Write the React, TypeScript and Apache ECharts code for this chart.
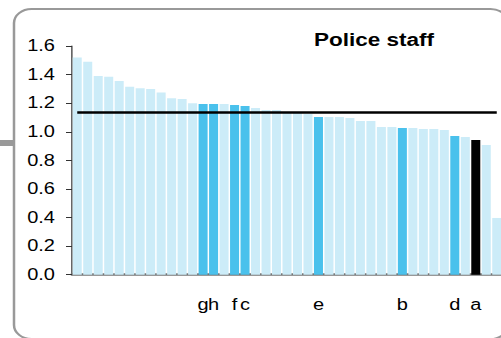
import React, { useEffect, useRef } from "react";
import * as echarts from "echarts";

// Bar values, sorted descending
const values: number[] = [
  1.52, 1.49, 1.39, 1.385, 1.355, 1.315, 1.305, 1.3, 1.275, 1.235,
  1.23, 1.2, 1.195, 1.195, 1.195, 1.188, 1.18, 1.167, 1.153, 1.153,
  1.135, 1.135, 1.125, 1.104, 1.104, 1.104, 1.097, 1.076, 1.076, 1.034,
  1.034, 1.027, 1.027, 1.02, 1.02, 1.013, 0.971, 0.964, 0.943, 0.908,
  0.397,
];

// Category tick labels (only some bars are labelled)
const barLabels: string[] = [
  "", "", "", "", "", "", "", "", "", "",
  "", "", "g", "h", "", "f", "c", "", "", "",
  "", "", "", "e", "", "", "", "", "", "",
  "", "b", "", "", "", "", "d", "", "a", "",
  "",
];

const categories: string[] = barLabels.map((_, i) => "c" + (i + 1));

const referenceLevel = 1.14;
const yMin = 0;
const yMax = 1.6;
const yInterval = 0.2;

const LIGHT = "#CCECF8";
const DARK = "#4AC1EC";
const FOCUS = "#000000";
const FONT = "'Liberation Sans', Arial, Helvetica, sans-serif";

const SX = 1.25;
const W = 402;
const H = 338;
const px = (x: number) => x / SX;

export default function App() {
  const ref = useRef<HTMLDivElement>(null);
  useEffect(() => {
    if (!ref.current) return;
    const chart = echarts.init(ref.current, null, { renderer: "svg" });
    chart.setOption({
      animation: false,
      backgroundColor: "transparent",
      title: {
        text: "Police staff",
        left: px(374),
        top: 31,
        textAlign: "center",
        padding: 0,
        textStyle: { fontSize: 18, fontWeight: "bold", color: "#000", fontFamily: FONT },
      },
      grid: {
        left: px(72),
        right: W - px(502),
        top: 46,
        bottom: 338 - 274.7,
        containLabel: false,
      },
      xAxis: {
        type: "category",
        data: categories,
        boundaryGap: true,
        axisLine: { show: true, lineStyle: { color: "#777", width: 2.5 } },
        axisTick: { show: false },
        axisLabel: {
          interval: 0,
          margin: 22,
          fontSize: 16,
          color: "#000",
          fontFamily: FONT,
          formatter: (_v: string, i: number) => barLabels[i],
        },
        splitLine: { show: false },
      },
      yAxis: {
        type: "value",
        min: yMin,
        max: yMax,
        interval: yInterval,
        axisLine: { show: true, lineStyle: { color: "#333", width: 1 } },
        axisTick: { show: true, length: px(6), lineStyle: { color: "#333", width: 1 } },
        axisLabel: {
          margin: px(17),
          fontSize: 16,
          color: "#000",
          fontFamily: FONT,
          formatter: (v: number) => v.toFixed(1),
        },
        splitLine: { show: false },
      },
      series: [
        {
          type: "bar",
          data: values.map((v, i) => ({
            value: v,
            itemStyle: {
              color: barLabels[i] === "a" ? FOCUS : barLabels[i] ? DARK : LIGHT,
            },
          })),
          barCategoryGap: "14%",
          silent: true,
          markLine: {
            silent: true,
            symbol: ["none", "none"],
            label: { show: false },
            lineStyle: { color: "#000", width: 2.5, type: "solid" },
            data: [
              [
                { xAxis: categories[0], yAxis: referenceLevel },
                { xAxis: categories[categories.length - 1], yAxis: referenceLevel },
              ],
            ],
          },
        },
      ],
      graphic: [
        {
          type: "rect",
          z: -1,
          shape: { x: px(14), y: 9, width: px(494), height: 330, r: 14 },
          style: { fill: "none", stroke: "#999", lineWidth: 2 },
          silent: true,
        },
        {
          type: "rect",
          z: -1,
          shape: { x: 0, y: 140, width: px(14), height: 6 },
          style: { fill: "#999" },
          silent: true,
        },
      ],
    });
    return () => chart.dispose();
  }, []);
  return (
    <div
      style={{
        position: "fixed",
        left: 0,
        top: 0,
        width: 501,
        height: 338,
        overflow: "hidden",
        background: "#fff",
      }}
    >
      <div
        ref={ref}
        style={{ width: W, height: H, transform: `scaleX(${SX})`, transformOrigin: "0 0" }}
      />
    </div>
  );
}
